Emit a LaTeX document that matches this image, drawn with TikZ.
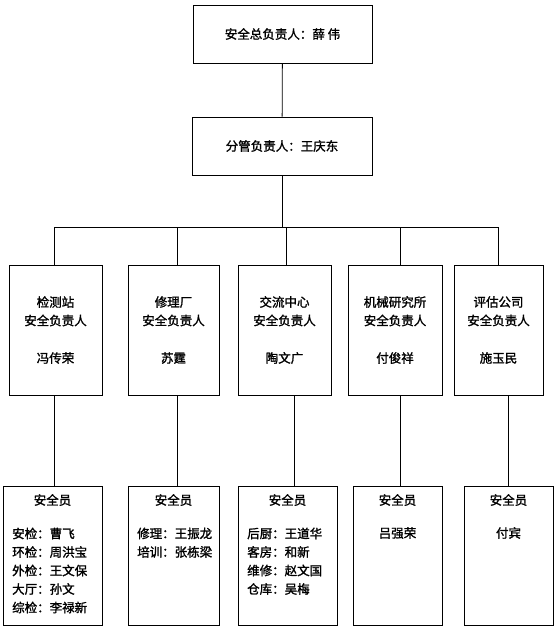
\documentclass[tikz,border=0pt]{standalone}
\usepackage{fontspec}
\newfontfamily\cjk[FakeBold=1.5]{Noto Sans CJK SC}
\usetikzlibrary{positioning}

\begin{document}
\begin{tikzpicture}[x=1pt, y=-1pt,
    box/.style={draw, line width=0.8pt, inner sep=0pt},
    link/.style={line width=0.8pt},
    every node/.style={font=\cjk\fontsize{12.5}{18.5}\selectfont}]
  \useasboundingbox (0,0) rectangle (555,629);

  \node[box, minimum width=179, minimum height=58] (chief) at (282.5,34) {安全总负责人：薛 伟};
  \node[box, minimum width=180, minimum height=58] (deputy) at (282,146) {分管负责人：王庆东};

  \coordinate (bus west) at (54,227);
  \coordinate (bus east) at (498,227);

  % unit heads
  \foreach \n/\xa/\xb/\unit/\who in {1/9/102/检测站/冯传荣, 2/128/219/修理厂/苏霆,
      3/238/331/交流中心/陶文广, 4/348/442/机械研究所/付俊祥, 5/454/543/评估公司/施玉民} {
    \node[box, align=center, minimum width={\xb-\xa}, minimum height=130]
      (unit\n) at ({(\xa+\xb)/2},330) {\unit\\安全负责人\\[19pt]\who};
  }

  % safety staff
  \foreach \n/\xa/\xb in {1/3/102, 2/128/219, 3/238/337, 4/353/442, 5/464/553} {
    \node[box, minimum width={\xb-\xa}, minimum height=139] (staff\n) at ({(\xa+\xb)/2},555.5) {};
    \node (head\n) at ({(\xa+\xb)/2},500) {安全员};
  }
  \node[anchor=north west, inner sep=0pt, align=left] (list1) at (12,527.5) {安检：曹飞\\环检：周洪宝\\外检：王文保\\大厅：孙文\\综检：李禄新};
  \node[anchor=north west, inner sep=0pt, align=left] (list2) at (137,527.5) {修理：王振龙\\培训：张栋梁};
  \node[anchor=north west, inner sep=0pt, align=left] (list3) at (247,527.5) {后厨：王道华\\客房：和新\\维修：赵文国\\仓库：吴梅};
  \node (list4) at (397.5,533) {吕强荣};
  \node (list5) at (508.5,533) {付宾};

  \draw[link] (chief) -- (deputy);
  \draw[link] (deputy) -- (deputy |- bus west);
  \draw[link] (bus west) -- (bus east);
  \foreach \n/\up/\down in {1/54/54, 2/177/177, 3/286/294, 4/400/400, 5/498/508} {
    \coordinate (drop\n) at (\up,227);
    \coordinate (low\n) at (\down,400);
    \draw[link] (drop\n) -- (drop\n |- unit\n.north);
    \draw[link] (low\n |- unit\n.south) -- (low\n |- staff\n.north);
  }
\end{tikzpicture}
\end{document}
